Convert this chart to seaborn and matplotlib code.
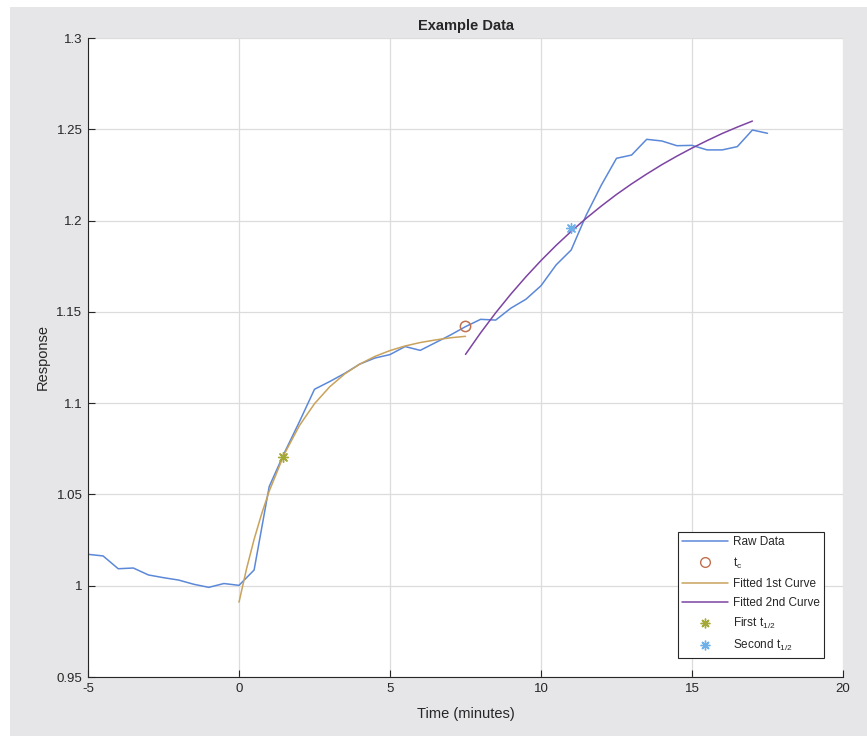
import matplotlib
matplotlib.use('Agg')
import matplotlib.pyplot as plt
from matplotlib.patches import Rectangle
from matplotlib.lines import Line2D
from matplotlib.ticker import FormatStrFormatter
import seaborn as sns

# raw measurements, sampled every half minute
raw_time = [-5, -4.5, -4, -3.5, -3, -2.5, -2, -1.5, -1, -0.5,
            0, 0.5, 1, 1.5, 2, 2.5, 3, 3.5, 4, 4.5,
            5, 5.5, 6, 6.5, 7, 7.5, 8, 8.5, 9, 9.5,
            10, 10.5, 11, 11.5, 12, 12.5, 13, 13.5, 14, 14.5,
            15, 15.5, 16, 16.5, 17, 17.5]
raw_resp = [1.0172, 1.0163, 1.0093, 1.0097, 1.0059, 1.0044, 1.0031, 1.0008, 0.9991, 1.0012,
            1.0002, 1.0086, 1.0543, 1.0727, 1.0898, 1.1076, 1.1118, 1.1163, 1.1214, 1.1247,
            1.1266, 1.1310, 1.1289, 1.1331, 1.1373, 1.1419, 1.1459, 1.1455, 1.1520, 1.1569,
            1.1643, 1.1757, 1.1839, 1.2031, 1.2195, 1.2341, 1.2359, 1.2445, 1.2436, 1.2410,
            1.2412, 1.2387, 1.2387, 1.2405, 1.2496, 1.2478]

# first fitted curve
fit1_time = [0, 0.25, 0.5, 0.75, 1, 1.5, 2, 2.5, 3, 3.5, 4, 4.5, 5, 5.5, 6, 6.5, 7, 7.5]
fit1_resp = [0.9910, 1.0093, 1.0254, 1.0394, 1.0518, 1.0721, 1.0877, 1.0997, 1.1089, 1.1160,
             1.1214, 1.1256, 1.1288, 1.1313, 1.1332, 1.1346, 1.1358, 1.1366]

# second fitted curve
fit2_time = [7.5, 8, 8.5, 9, 9.5, 10, 10.5, 11, 11.5, 12, 12.5, 13, 13.5, 14, 14.5,
             15, 15.5, 16, 16.5, 17]
fit2_resp = [1.1267, 1.1385, 1.1495, 1.1597, 1.1692, 1.1781, 1.1864, 1.1941, 1.2013, 1.2080,
             1.2143, 1.2201, 1.2255, 1.2306, 1.2353, 1.2397, 1.2438, 1.2477, 1.2512, 1.2545]

# special points
tc_point = (7.5, 1.142)
half1_point = (1.45, 1.0707)
half2_point = (11.0, 1.1958)

xticks = [-5, 0, 5, 10, 15, 20]
yticks = [0.95, 1.0, 1.05, 1.1, 1.15, 1.2, 1.25, 1.3]

c_raw = '#5b88d8'
c_tc = '#c0714f'
c_fit1 = '#c9a25c'
c_fit2 = '#7d44a3'
c_h1 = '#a4a834'
c_h2 = '#6cb0ea'

sns.set_theme(style='ticks')
plt.rcParams['font.family'] = ['Liberation Sans', 'DejaVu Sans']
plt.rcParams['mathtext.fontset'] = 'custom'
plt.rcParams['mathtext.rm'] = 'Liberation Sans'
plt.rcParams['axes.unicode_minus'] = False

fig = plt.figure(figsize=(8.67, 7.36), dpi=100)
fig.patch.set_facecolor('#e6e6e9')
# white strips on left / top like the screenshot
fig.patches.append(Rectangle((0, 0), 10 / 867, 1, transform=fig.transFigure,
                             facecolor='white', edgecolor='none', zorder=0))
fig.patches.append(Rectangle((0, 1 - 7 / 736), 1, 7 / 736, transform=fig.transFigure,
                             facecolor='white', edgecolor='none', zorder=0))

ax = fig.add_axes([88 / 867, 59 / 736, 755 / 867, 639 / 736])
ax.set_facecolor('white')

sns.lineplot(x=raw_time, y=raw_resp, ax=ax, color=c_raw, lw=1.1, sort=False, estimator=None)
sns.lineplot(x=fit1_time, y=fit1_resp, ax=ax, color=c_fit1, lw=1.1, sort=False, estimator=None)
sns.lineplot(x=fit2_time, y=fit2_resp, ax=ax, color=c_fit2, lw=1.1, sort=False, estimator=None)

sns.scatterplot(x=[tc_point[0]], y=[tc_point[1]], ax=ax, marker='o', s=55,
                facecolor='none', edgecolor=c_tc, linewidth=1.1, zorder=5)
sns.scatterplot(x=[half1_point[0]], y=[half1_point[1]], ax=ax, marker=(8, 2, 0), s=50,
                color=c_h1, edgecolor=c_h1, linewidth=1.0, zorder=5)
sns.scatterplot(x=[half2_point[0]], y=[half2_point[1]], ax=ax, marker=(8, 2, 0), s=50,
                color=c_h2, edgecolor=c_h2, linewidth=1.0, zorder=5)

ax.set_xlim(-5, 20)
ax.set_ylim(0.95, 1.3)
ax.set_xticks(xticks)
ax.set_yticks(yticks)
ax.yaxis.set_major_formatter(FormatStrFormatter('%g'))
ax.grid(True, color='#dcdcdc', lw=0.9)
ax.set_axisbelow(True)
for side in ['top', 'right']:
    ax.spines[side].set_visible(False)
for side in ['left', 'bottom']:
    ax.spines[side].set_color('#262626')
    ax.spines[side].set_linewidth(0.8)
ax.tick_params(direction='in', length=5, width=0.8, labelsize=9.5, colors='#262626',
               pad=4)

ax.set_title('Example Data', fontsize=10.5, fontweight='bold', pad=6)
ax.set_xlabel('Time (minutes)', fontsize=10.5, labelpad=9)
ax.set_ylabel('Response', fontsize=10.5, labelpad=5)

handles = [
    Line2D([], [], color=c_raw, lw=1.1),
    Line2D([], [], color=c_tc, marker='o', ls='none', markerfacecolor='none', markersize=7),
    Line2D([], [], color=c_fit1, lw=1.1),
    Line2D([], [], color=c_fit2, lw=1.1),
    Line2D([], [], color=c_h1, marker=(8, 2, 0), ls='none', markersize=7),
    Line2D([], [], color=c_h2, marker=(8, 2, 0), ls='none', markersize=7),
]
labels = ['Raw Data', r'$\mathregular{t_c}$', 'Fitted 1st Curve', 'Fitted 2nd Curve',
          r'First $\mathregular{t_{1/2}}$', r'Second $\mathregular{t_{1/2}}$']
leg = ax.legend(handles, labels, loc='lower right', bbox_to_anchor=(0.975, 0.03),
                fontsize=8.5, fancybox=False, framealpha=1, edgecolor='#262626',
                handlelength=3.9, handletextpad=0.35, labelspacing=0.6,
                borderpad=0.4, borderaxespad=0)
leg.get_frame().set_linewidth(0.8)

fig.savefig('out.png', dpi=100, facecolor=fig.get_facecolor())
